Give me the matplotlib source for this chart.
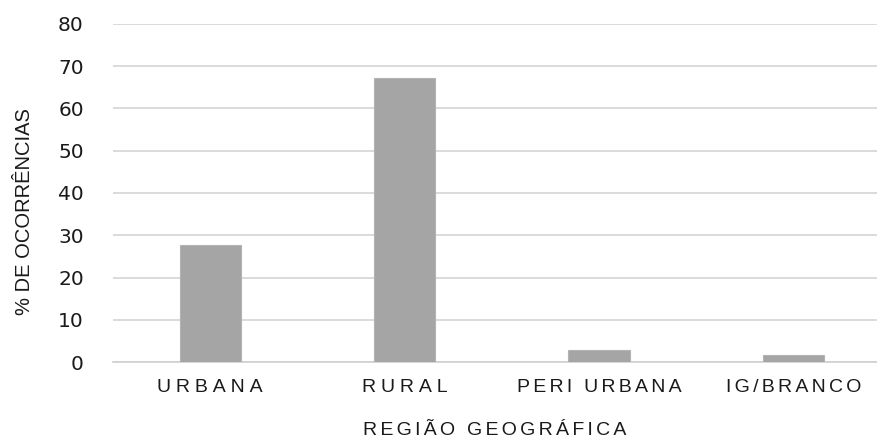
import matplotlib
matplotlib.use("Agg")
import matplotlib.pyplot as plt

categories = ["URBANA", "RURAL", "PERI URBANA", "IG/BRANCO"]
values = [27.6, 67.2, 2.8, 1.6]
yticks = [0, 10, 20, 30, 40, 50, 60, 70, 80]
xlabel = "REGIÃO GEOGRÁFICA"
ylabel = "% DE OCORRÊNCIAS"

FAM = ['Liberation Sans', 'DejaVu Sans']
plt.rcParams['font.family'] = FAM
HS = "\u200a"  # hair space used as letter spacing (reference text is horizontally stretched)

W, H = 877, 441
fig = plt.figure(figsize=(W/100, H/100), dpi=100)
left, right, top, bottom = 113, 877, 24, 362
ax = fig.add_axes([left/W, (H-bottom)/H, (right-left)/W, (bottom-top)/H])
renderer = fig.canvas.get_renderer()

FS = 14


def spaced(s, n):
    return (HS * n).join(list(s)) if n > 0 else s


def fit(s, target, fs=FS):
    best, berr = s, 1e9
    for n in range(0, 4):
        cand = spaced(s, n)
        t = fig.text(0, 0, cand, fontsize=fs)
        w = t.get_window_extent(renderer).width
        t.remove()
        err = abs(w - target)
        if err < berr:
            best, berr = cand, err
    return best


x = list(range(len(categories)))
ax.bar(x, values, width=0.315, color="#a5a5a5", edgecolor="#b3b3b3", linewidth=0.8, zorder=3)

ax.set_ylim(0, 80)
ax.set_xlim(-0.5, 3.43)
ax.set_yticks(yticks)
ax.set_yticklabels([str(v) for v in yticks], fontsize=14.5, color="#1a1a1a",
                   family=['DejaVu Sans'])
xtargets = [105, 85, 168, 140]
ax.set_xticks(x)
ax.set_xticklabels([fit(c, t) for c, t in zip(categories, xtargets)], fontsize=FS, color="#1a1a1a")
ax.tick_params(axis='both', length=0)
ax.tick_params(axis='y', pad=21)
ax.tick_params(axis='x', pad=12)

ax.yaxis.grid(True, color="#d4d4d4", linewidth=1.2, zorder=0)
ax.set_axisbelow(True)
for s in ["top", "right", "left"]:
    ax.spines[s].set_visible(False)
ax.spines["bottom"].set_color("#cfcfcf")
ax.spines["bottom"].set_linewidth(1.2)

ax.set_ylabel(ylabel, fontsize=14.5, color="#1a1a1a", labelpad=17)
ax.yaxis.label.set_y(0.444)
ax.set_xlabel(fit(xlabel, 255), fontsize=FS, color="#1a1a1a", labelpad=19)

fig.savefig("out.png", dpi=100, facecolor="white")
